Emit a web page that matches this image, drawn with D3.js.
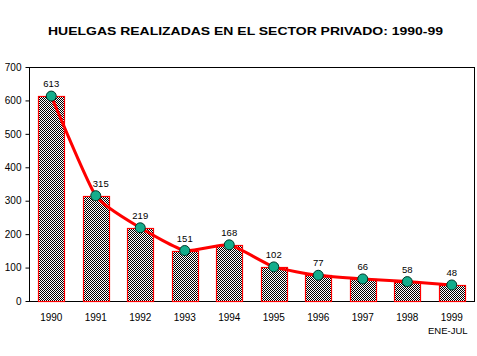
<!DOCTYPE html>
<html><head><meta charset="utf-8">
<script src="https://cdn.jsdelivr.net/npm/d3@7"></script>
<style>body{margin:0;background:#fff}svg{display:block}text{font-family:"Liberation Sans",Arial,sans-serif}</style>
</head><body><svg id="c" width="477" height="356"></svg>
<script>
const years = ["1990","1991","1992","1993","1994","1995","1996","1997","1998","1999"];
const strikes = [613,315,219,151,168,102,77,66,58,48];
const yTicks = [0,100,200,300,400,500,600,700];
const subLabels = ["","","","","","","","","","ENE-JUL"];
const title = "HUELGAS REALIZADAS  EN EL SECTOR PRIVADO: 1990-99";

const svg = d3.select("#c");
const L=29, R=474, T=67, B=301;
const x = d3.scaleBand().domain(years).range([L,R]).padding(0);
const y = d3.scaleLinear().domain([0,700]).range([B,T]);
const cx = d => x(d)+x.bandwidth()/2;
const bw = x.bandwidth()*0.585;

const defs = svg.append("defs");
const pat = defs.append("pattern").attr("id","chk").attr("width",2).attr("height",2).attr("patternUnits","userSpaceOnUse");
pat.append("rect").attr("width",2).attr("height",2).attr("fill","#fff");
pat.append("rect").attr("x",0).attr("y",0).attr("width",1).attr("height",1).attr("fill","#000");
pat.append("rect").attr("x",1).attr("y",1).attr("width",1).attr("height",1).attr("fill","#000");

svg.append("text").attr("x",48).attr("y",35).attr("font-size",11.5).attr("font-weight","bold")
  .attr("textLength",395).attr("lengthAdjust","spacingAndGlyphs").text(title);

// box
svg.append("rect").attr("x",L+0.5).attr("y",T+0.5).attr("width",R-L).attr("height",B-T)
  .attr("fill","none").attr("stroke","#000").attr("stroke-width",1).attr("shape-rendering","crispEdges");

// bars
svg.append("g").selectAll("rect").data(strikes).join("rect")
  .attr("x",(d,i)=>Math.round(cx(years[i])-bw/2)+0.5)
  .attr("y",d=>Math.round(y(d))+0.5)
  .attr("width",Math.round(bw))
  .attr("height",d=>B-Math.round(y(d)))
  .attr("fill","url(#chk)").attr("stroke","#ff0000").attr("stroke-width",1.2);

// axes
const ya = d3.axisLeft(y).tickValues(yTicks).tickSize(4).tickPadding(4);
const gy = svg.append("g").attr("transform",`translate(${L+0.5},0)`).call(ya);
gy.select(".domain").remove();
gy.selectAll("text").attr("font-size",10).attr("font-family","Liberation Sans, Arial").attr("fill","#000");
gy.selectAll("line").attr("stroke","#000");

const xa = d3.axisBottom(x).tickSize(0).tickPadding(12);
const gx = svg.append("g").attr("transform",`translate(0,${B+0.5})`).call(xa);
gx.select(".domain").remove();
gx.selectAll("text").attr("font-size",10).attr("font-family","Liberation Sans, Arial").attr("fill","#000");

svg.append("g").selectAll("text").data(subLabels).join("text")
  .attr("x",(d,i)=>cx(years[i])-4).attr("y",334).attr("text-anchor","middle")
  .attr("font-size",9.5).text(d=>d);

// line
const line = d3.line().x((d,i)=>cx(years[i])).y(d=>y(d)).curve(d3.curveCardinal.tension(0.5));
svg.append("path").datum(strikes).attr("d",line).attr("fill","none").attr("stroke","#ff0000").attr("stroke-width",3);

svg.append("g").selectAll("circle").data(strikes).join("circle")
  .attr("cx",(d,i)=>cx(years[i])).attr("cy",d=>y(d)).attr("r",5)
  .attr("fill","#14ad8c").attr("stroke","#003a2a").attr("stroke-width",1);

svg.append("g").selectAll("text").data(strikes).join("text")
  .attr("x",(d,i)=>cx(years[i])+(i===1?5:0)).attr("y",d=>y(d)-9).attr("text-anchor","middle")
  .attr("font-size",9.5).text(d=>d);
</script></body></html>
